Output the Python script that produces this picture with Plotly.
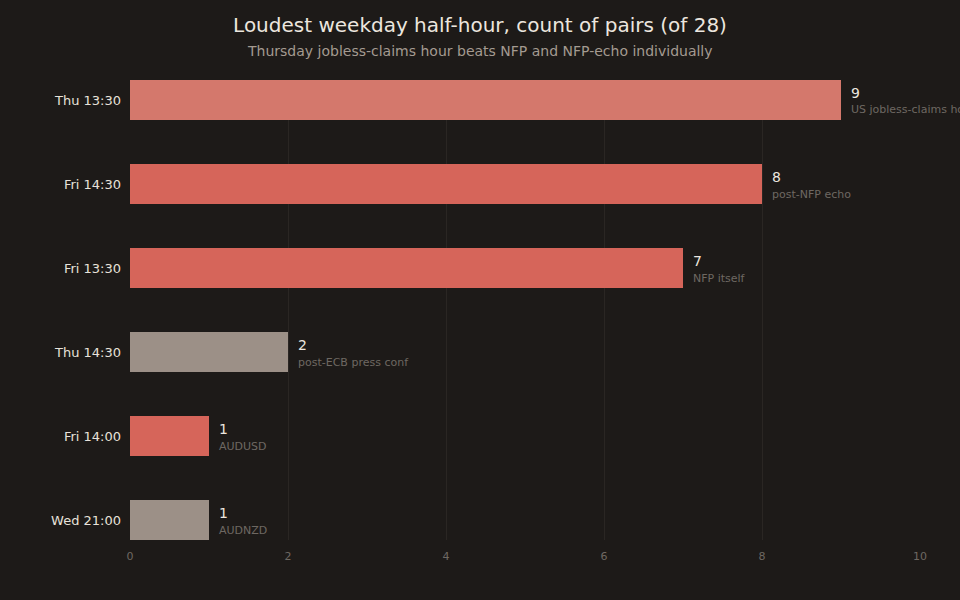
import plotly.graph_objects as go

# data, top to bottom
slots = ["Thu 13:30", "Fri 14:30", "Fri 13:30", "Thu 14:30", "Fri 14:00", "Wed 21:00"]
counts = [9, 8, 7, 2, 1, 1]
notes = ["US jobless-claims hour", "post-NFP echo", "NFP itself",
         "post-ECB press conf", "AUDUSD", "AUDNZD"]
bar_colors = ["#d4786c", "#d6655a", "#d6655a", "#9c9087", "#d6655a", "#9c9087"]

BG = "#1d1a18"
FONT = "DejaVu Sans"

fig = go.Figure()
fig.add_trace(go.Bar(
    x=counts, y=slots, orientation="h",
    marker=dict(color=bar_colors, line=dict(width=0)),
    width=0.476, hoverinfo="skip", showlegend=False,
))

# value + note labels to the right of each bar
for s, c, n in zip(slots, counts, notes):
    fig.add_annotation(x=c, y=s, text=str(c), showarrow=False,
                       xanchor="left", yanchor="middle", xshift=8, yshift=7,
                       font=dict(family=FONT, size=14, color="#ece6df"))
    fig.add_annotation(x=c, y=s, text=n, showarrow=False,
                       xanchor="left", yanchor="middle", xshift=8, yshift=-10,
                       font=dict(family=FONT, size=11, color="#6e6862"))

# subtitle, centred on the whole figure
fig.add_annotation(x=(480 - 130) / 790, y=(540 - 51) / 460, xref="paper", yref="paper",
                   xanchor="center", yanchor="middle", showarrow=False,
                   text="Thursday jobless-claims hour beats NFP and NFP-echo individually",
                   font=dict(family=FONT, size=14, color="#a49a91"))

fig.update_layout(
    width=960, height=600,
    paper_bgcolor=BG, plot_bgcolor=BG,
    margin=dict(l=130, r=40, t=80, b=60),
    font=dict(family=FONT, color="#e8e2da"),
    title=dict(
        text="Loudest weekday half-hour, count of pairs (of 28)",
        x=0.5, xanchor="center", y=1 - 25 / 600, yanchor="middle",
        font=dict(family=FONT, size=20, color="#ece6df"),
    ),
)
fig.update_xaxes(range=[0, 10], dtick=2, showgrid=True, gridcolor="#2a2623", gridwidth=1,
                 zeroline=False, showline=False, ticks="", ticklabelstandoff=8,
                 tickfont=dict(family=FONT, size=11, color="#6e6862"))
fig.update_yaxes(categoryorder="array", categoryarray=slots,
                 range=[5.238, -0.238], showgrid=False, zeroline=False, ticks="",
                 ticklabelstandoff=8,
                 tickfont=dict(family=FONT, size=13, color="#e8e2da"))

fig.write_html("out.html", config={"displayModeBar": False},
               post_script="document.body.style.margin='0';"
                           "document.body.style.background='#1d1a18';")
